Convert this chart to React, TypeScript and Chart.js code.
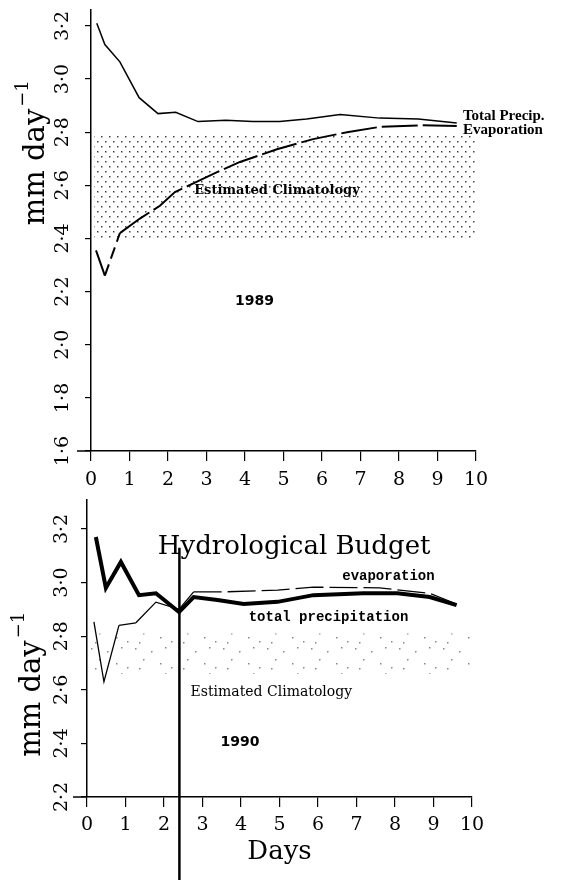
import React, { useEffect, useRef } from 'react';
import { Chart, registerables } from 'chart.js';

Chart.register(...registerables);

// ---------- data ----------
const dayTicks = [0, 1, 2, 3, 4, 5, 6, 7, 8, 9, 10];
const yTicks1989 = [1.6, 1.8, 2.0, 2.2, 2.4, 2.6, 2.8, 3.0, 3.2];
const yTicks1990 = [2.2, 2.4, 2.6, 2.8, 3.0, 3.2];

// 1989 panel
const precipDays1989 = [0.15, 0.36, 0.75, 1.25, 1.74, 2.2, 2.78, 3.5, 4.2, 4.9, 5.6, 6.47, 7.5, 8.5, 9.5];
const precipVals1989 = [3.21, 3.13, 3.065, 2.93, 2.87, 2.875, 2.84, 2.845, 2.84, 2.84, 2.85, 2.867, 2.853, 2.85, 2.835];
const evapDays1989 = [0.13, 0.36, 0.75, 1.27, 1.79, 2.18, 2.7, 3.26, 3.87, 4.83, 5.77, 6.65, 7.5, 8.55, 9.5];
const evapVals1989 = [2.355, 2.26, 2.42, 2.475, 2.523, 2.575, 2.61, 2.649, 2.688, 2.736, 2.774, 2.8, 2.82, 2.826, 2.823];
const climDays1989 = [0.08, 10];
const climLow1989 = 2.4;
const climHigh1989 = 2.79;

// 1990 panel
const precipDays1990 = [0.23, 0.49, 0.88, 1.35, 1.79, 2.39, 2.77, 3.39, 4.07, 4.95, 5.88, 7.18, 8.06, 8.9, 9.6];
const precipVals1990 = [3.17, 2.98, 3.077, 2.953, 2.96, 2.89, 2.946, 2.935, 2.92, 2.928, 2.953, 2.96, 2.96, 2.946, 2.916];
const evapDays1990 = [0.18, 0.44, 0.83, 1.27, 1.79, 2.39, 2.77, 3.5, 4.95, 5.88, 7.6, 8.9, 9.6];
const evapVals1990 = [2.853, 2.63, 2.84, 2.85, 2.927, 2.9, 2.965, 2.965, 2.972, 2.983, 2.98, 2.96, 2.92];
const climDays1990 = [0, 10];
const climLow1990 = 2.66;
const climHigh1990 = 2.81;
const markerDay1990 = 2.4;
const markerTop1990 = 3.13;

type Note = { text: string; day: number; value: number; font: string };

const notes1989: Note[] = [
  { text: 'Total Precip.', day: 9.66, value: 2.86, font: 'bold 15px "Liberation Serif"' },
  { text: 'Evaporation', day: 9.66, value: 2.807, font: 'bold 15px "Liberation Serif"' },
  { text: 'Estimated Climatology', day: 2.68, value: 2.579, font: 'bold 13px "DejaVu Serif"' },
  { text: '1989', day: 3.74, value: 2.165, font: 'bold 14px "DejaVu Sans"' },
];
const notes1990: Note[] = [
  { text: 'Hydrological Budget', day: 1.84, value: 3.133, font: '26px "DejaVu Serif"' },
  { text: 'evaporation', day: 6.63, value: 3.021, font: 'bold 14px "Liberation Mono"' },
  { text: 'total precipitation', day: 4.2, value: 2.868, font: 'bold 14px "Liberation Mono"' },
  { text: 'Estimated Climatology', day: 2.69, value: 2.592, font: '14px "DejaVu Serif"' },
  { text: '1990', day: 3.47, value: 2.405, font: 'bold 14px "DejaVu Sans"' },
];

const pts = (xs: number[], ys: number[]) => xs.map((x, i) => ({ x, y: ys[i] }));
const fmtY = (v: number) => v.toFixed(1).replace('.', '\u00B7');

function dotPattern(ctx: CanvasRenderingContext2D, w: number, h: number, dots: number[][], color: string, size: number) {
  const c = document.createElement('canvas');
  c.width = w;
  c.height = h;
  const g = c.getContext('2d')!;
  g.fillStyle = color;
  dots.forEach(([x, y]) => g.fillRect(x, y, size, size));
  return ctx.createPattern(c, 'repeat')!;
}

function notesPlugin(notes: Note[]) {
  return {
    id: 'notes',
    afterDatasetsDraw(chart: any) {
      const { ctx, scales } = chart;
      ctx.save();
      ctx.fillStyle = '#000';
      ctx.textBaseline = 'middle';
      ctx.textAlign = 'left';
      notes.forEach((n) => {
        ctx.font = n.font;
        ctx.fillText(n.text, scales.x.getPixelForValue(n.day), scales.y.getPixelForValue(n.value));
      });
      ctx.restore();
    },
  };
}

function yTitlePlugin(startValue: number, offsetX: number) {
  return {
    id: 'ytitle',
    afterDraw(chart: any) {
      const { ctx, chartArea, scales } = chart;
      const px = chartArea.left - offsetX;
      const py = scales.y.getPixelForValue(startValue);
      ctx.save();
      ctx.translate(px, py);
      ctx.rotate(-Math.PI / 2);
      ctx.fillStyle = '#000';
      ctx.textBaseline = 'alphabetic';
      ctx.textAlign = 'left';
      ctx.font = '29px "DejaVu Serif"';
      ctx.fillText('mm day', 0, 0);
      const w = ctx.measureText('mm day').width;
      ctx.font = '18px "DejaVu Serif"';
      ctx.fillText('\u22121', w + 2, -16);
      ctx.restore();
    },
  };
}

const axisStub = {
  id: 'axisStub',
  afterDraw(chart: any) {
    const { ctx, chartArea } = chart;
    ctx.save();
    ctx.strokeStyle = '#000';
    ctx.lineWidth = 1.5;
    ctx.beginPath();
    ctx.moveTo(chartArea.left - 14, chartArea.bottom);
    ctx.lineTo(chartArea.left, chartArea.bottom);
    ctx.stroke();
    ctx.restore();
  },
};

const markerPlugin = {
  id: 'marker',
  afterDatasetsDraw(chart: any) {
    const { ctx, scales } = chart;
    const x = scales.x.getPixelForValue(markerDay1990);
    ctx.save();
    ctx.strokeStyle = '#000';
    ctx.lineWidth = 2.5;
    ctx.beginPath();
    ctx.moveTo(x, scales.y.getPixelForValue(markerTop1990));
    ctx.lineTo(x, chart.height);
    ctx.stroke();
    ctx.restore();
  },
};

function makeScales(yTicks: number[], yMin: number, yMax: number, yWidth: number, xHeight: number, xPad: number, yPad: number, withTitle: boolean) {
  return {
    x: {
      type: 'linear',
      min: 0,
      max: 10,
      afterBuildTicks: (s: any) => {
        s.ticks = dayTicks.map((v) => ({ value: v }));
      },
      afterFit: (s: any) => {
        s.height = xHeight;
        s.paddingLeft = 0;
        s.paddingRight = 0;
      },
      grid: { display: true, drawOnChartArea: false, drawTicks: true, tickLength: 10, color: '#000', lineWidth: 1.2 },
      border: { display: true, color: '#000', width: 1.5 },
      ticks: {
        color: '#000',
        font: { family: 'DejaVu Serif', size: 19 },
        padding: xPad,
        maxRotation: 0,
        autoSkip: false,
        callback: (v: any) => String(v),
      },
      title: withTitle
        ? { display: true, text: 'Days', color: '#000', font: { family: 'DejaVu Serif', size: 26 }, padding: { top: 0, bottom: 12 } }
        : { display: false },
    },
    y: {
      type: 'linear',
      min: yMin,
      max: yMax,
      afterBuildTicks: (s: any) => {
        s.ticks = yTicks.map((v) => ({ value: v }));
      },
      afterFit: (s: any) => {
        s.width = yWidth;
        s.paddingTop = 0;
        s.paddingBottom = 0;
      },
      grid: { display: true, drawOnChartArea: false, drawTicks: true, tickLength: 6, color: '#000', lineWidth: 1.2 },
      border: { display: true, color: '#000', width: 1.5 },
      ticks: {
        color: '#000',
        font: { family: 'DejaVu Serif', size: 19 },
        padding: yPad,
        minRotation: 90,
        maxRotation: 90,
        crossAlign: 'center',
        autoSkip: false,
        callback: (v: any) => fmtY(Number(v)),
      },
    },
  };
}

export default function App() {
  const topRef = useRef<HTMLCanvasElement>(null);
  const botRef = useRef<HTMLCanvasElement>(null);

  useEffect(() => {
    const tctx = topRef.current!.getContext('2d')!;
    const bctx = botRef.current!.getContext('2d')!;
    const densePat = dotPattern(tctx, 8, 10, [[1, 1], [5, 6]], '#444', 1.5);
    const sparsePat = dotPattern(
      bctx,
      44,
      26,
      [[3, 2], [19, 5], [33, 1], [11, 13], [28, 17], [39, 21], [7, 22]],
      '#888',
      1.5
    );

    const c1 = new Chart(topRef.current!, {
      type: 'line',
      data: {
        datasets: [
          {
            label: 'Total Precip.',
            data: pts(precipDays1989, precipVals1989),
            borderColor: '#000',
            borderWidth: 1.5,
            pointRadius: 0,
            tension: 0,
            fill: false,
            order: 1,
          },
          {
            label: 'Evaporation',
            data: pts(evapDays1989, evapVals1989),
            borderColor: '#000',
            borderWidth: 2,
            pointRadius: 0,
            tension: 0,
            fill: false,
            order: 1,
            segment: { borderDash: (c: any) => (c.p0DataIndex >= 2 ? [36, 5] : c.p0DataIndex === 1 ? [12, 6] : undefined) },
          },
          {
            label: 'Estimated Climatology',
            data: pts(climDays1989, [climHigh1989, climHigh1989]),
            borderWidth: 0,
            borderColor: 'rgba(0,0,0,0)',
            backgroundColor: densePat,
            pointRadius: 0,
            fill: { value: climLow1989 },
            order: 3,
          },
        ],
      },
      options: {
        animation: false,
        responsive: false,
        layout: { padding: { left: 0, right: 85, top: 10, bottom: 0 } },
        plugins: { legend: { display: false }, tooltip: { enabled: false }, title: { display: false } },
        scales: makeScales(yTicks1989, 1.6, 3.26, 91, 39, 8, 7, false) as any,
      },
      plugins: [notesPlugin(notes1989), yTitlePlugin(2.45, 47), axisStub],
    } as any);

    const c2 = new Chart(botRef.current!, {
      type: 'line',
      data: {
        datasets: [
          {
            label: 'total precipitation',
            data: pts(precipDays1990, precipVals1990),
            borderColor: '#000',
            borderWidth: 4,
            pointRadius: 0,
            tension: 0,
            fill: false,
            order: 1,
          },
          {
            label: 'evaporation',
            data: pts(evapDays1990, evapVals1990),
            borderColor: '#000',
            borderWidth: 1.3,
            pointRadius: 0,
            tension: 0,
            fill: false,
            order: 2,
            segment: {
              borderDash: (c: any) =>
                c.p0DataIndex === 2 || c.p0DataIndex >= 6 ? [28, 6] : undefined,
            },
          },
          {
            label: 'Estimated Climatology',
            data: pts(climDays1990, [climHigh1990, climHigh1990]),
            borderWidth: 0,
            borderColor: 'rgba(0,0,0,0)',
            backgroundColor: sparsePat,
            pointRadius: 0,
            fill: { value: climLow1990 },
            order: 3,
          },
        ],
      },
      options: {
        animation: false,
        responsive: false,
        layout: { padding: { left: 0, right: 89, top: 10, bottom: 0 } },
        plugins: { legend: { display: false }, tooltip: { enabled: false }, title: { display: false } },
        scales: makeScales(yTicks1990, 2.2, 3.308, 87, 83, 7, 4, true) as any,
      },
      plugins: [notesPlugin(notes1990), yTitlePlugin(2.35, 47), axisStub, markerPlugin],
    } as any);

    return () => {
      c1.destroy();
      c2.destroy();
    };
  }, []);

  return (
    <div style={{ position: 'absolute', left: 0, top: 0, width: 561, height: 880, background: '#fff' }}>
      <canvas ref={topRef} width={561} height={490} style={{ position: 'absolute', left: 0, top: 0, width: 561, height: 490 }} />
      <canvas ref={botRef} width={561} height={390} style={{ position: 'absolute', left: 0, top: 490, width: 561, height: 390 }} />
    </div>
  );
}
